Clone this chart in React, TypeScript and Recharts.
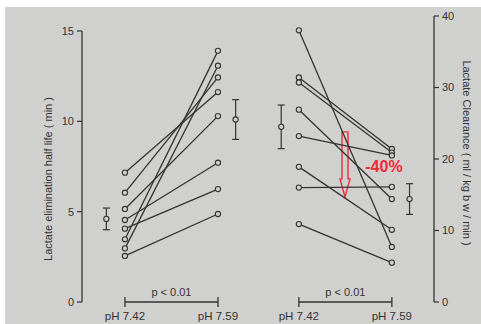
import React from 'react';
import { ComposedChart, Scatter, XAxis, YAxis, ErrorBar, ReferenceLine, ReferenceDot } from 'recharts';

// horizontal slot positions (pH 7.42 of left panel = 1, pH 7.59 = 2)
const xDomain: [number, number] = [0.538, 4.323];
const pos = {
  leftMeanBefore: 0.8,
  leftBefore: 1,
  leftAfter: 2,
  leftMeanAfter: 2.19,
  rightMeanBefore: 2.68,
  rightBefore: 2.87,
  rightAfter: 3.87,
  rightMeanAfter: 4.06,
};
const xTickValues = [1, 2, 2.87, 3.87];
const xTickLabels = ['pH 7.42', 'pH 7.59', 'pH 7.42', 'pH 7.59'];

const leftTicks = [0, 5, 10, 15];
const rightTicks = [0, 10, 20, 30, 40];

// Lactate elimination half life (min), per subject
const halfLifeBefore = [7.16, 6.05, 5.15, 4.54, 4.06, 3.47, 2.97, 2.55];
const halfLifeAfter = [11.62, 12.43, 10.29, 7.71, 6.25, 13.9, 13.08, 4.87];
const halfLifeMean = [4.6, 10.1];
const halfLifeErr = [0.6, 1.1];

// Lactate clearance (ml/kg bw/min), per subject
const clearanceBefore = [38.0, 31.4, 30.7, 26.9, 23.2, 18.9, 16.0, 10.9];
const clearanceAfter = [7.7, 21.4, 20.9, 14.4, 20.5, 10.1, 16.1, 5.5];
const clearanceMean = [24.5, 14.4];
const clearanceErr = [3.05, 2.15];

const pText = 'p < 0.01';
const arrowX = 3.366;
const arrowFrom = 23.8;
const arrowTo = 14.7;
const changeLabel = '-40%';
const changeX = 3.785;
const changeY = 18.95;

const BG = '#d0d0ce';
const INK = '#333333';
const RED = '#ee2b3b';
const FONT = '"Liberation Sans", Arial, sans-serif';

const Dot = (props: any) => {
  const { cx, cy } = props;
  if (cx == null || cy == null) return null;
  return <circle cx={cx} cy={cy} r={2.6} fill={BG} stroke={INK} strokeWidth={1.1} />;
};

const Arrow = (props: any) => {
  const { x1, y1, y2 } = props;
  const x = x1;
  const top = Math.min(y1, y2);
  const tip = Math.max(y1, y2);
  const hy = tip - 18;
  const d = `M${x - 3},${top} L${x + 3},${top} L${x + 3},${hy} L${x + 5},${hy} L${x},${tip} L${x - 5},${hy} L${x - 3},${hy} Z`;
  return <path d={d} fill="none" stroke={RED} strokeWidth={1.4} />;
};

const tickStyle = { fill: INK, fontSize: 11, fontFamily: FONT };
const lineStyle = { stroke: INK, strokeWidth: 1.3 };

export default function App() {
  const halfLifePairs = halfLifeBefore.map((b, i) => [
    { x: pos.leftBefore, y: b },
    { x: pos.leftAfter, y: halfLifeAfter[i] },
  ]);
  const clearancePairs = clearanceBefore.map((b, i) => [
    { x: pos.rightBefore, y: b },
    { x: pos.rightAfter, y: clearanceAfter[i] },
  ]);
  const halfLifeMeans = [
    { x: pos.leftMeanBefore, y: halfLifeMean[0], err: halfLifeErr[0] },
    { x: pos.leftMeanAfter, y: halfLifeMean[1], err: halfLifeErr[1] },
  ];
  const clearanceMeans = [
    { x: pos.rightMeanBefore, y: clearanceMean[0], err: clearanceErr[0] },
    { x: pos.rightMeanAfter, y: clearanceMean[1], err: clearanceErr[1] },
  ];

  return (
    <div style={{ position: 'absolute', left: 0, top: 0, width: 481, height: 324, background: '#ffffff', overflow: 'hidden' }}>
      <div style={{ position: 'absolute', left: 5, top: 7, right: 0, bottom: 0, background: BG }} />
      <div style={{ position: 'absolute', left: 0, top: 0 }}>
        <ComposedChart width={481} height={324} margin={{ top: 16, right: 0, bottom: 0, left: 0 }}>
          <XAxis
            type="number"
            dataKey="x"
            domain={xDomain}
            ticks={xTickValues}
            interval={0}
            allowDataOverflow
            tickFormatter={(v: number) => xTickLabels[xTickValues.indexOf(v)]}
            axisLine={false}
            tickLine={false}
            tickSize={8}
            tickMargin={2}
            height={22}
            tick={{ ...tickStyle, fontSize: 11.5 }}
          />
          <YAxis
            yAxisId="L"
            type="number"
            dataKey="y"
            domain={[0, 15.83]}
            ticks={leftTicks}
            allowDataOverflow
            width={82}
            axisLine={false}
            tickLine={{ stroke: INK, strokeWidth: 1.2 }}
            tickSize={5}
            tickMargin={3}
            tick={tickStyle}
            label={{
              value: 'Lactate elimination half life ( min )',
              angle: -90,
              position: 'insideLeft',
              offset: 48,
              dy: 20,
              style: { textAnchor: 'middle' },
              fill: INK,
              fontSize: 11,
              fontFamily: FONT,
            }}
          />
          <YAxis
            yAxisId="R"
            orientation="right"
            type="number"
            dataKey="y"
            domain={[0, 40]}
            ticks={rightTicks}
            allowDataOverflow
            width={47}
            axisLine={false}
            tickLine={{ stroke: INK, strokeWidth: 1.2 }}
            tickSize={5}
            tickMargin={3}
            tick={tickStyle}
            label={{
              value: 'Lactate Clearance ( ml / kg b w / min )',
              angle: 90,
              position: 'insideRight',
              offset: 14,
              dy: -6,
              style: { textAnchor: 'middle' },
              fill: INK,
              fontSize: 11,
              fontFamily: FONT,
            }}
          />

          {/* axis lines */}
          <ReferenceLine yAxisId="L" ifOverflow="visible" segment={[{ x: xDomain[0], y: 0 }, { x: xDomain[0], y: leftTicks[leftTicks.length - 1] }]} stroke={INK} strokeWidth={1.3} />
          <ReferenceLine yAxisId="R" ifOverflow="visible" segment={[{ x: xDomain[1], y: 0 }, { x: xDomain[1], y: rightTicks[rightTicks.length - 1] }]} stroke={INK} strokeWidth={1.3} />

          {/* significance brackets */}
          <ReferenceLine
            yAxisId="L"
            ifOverflow="visible"
            segment={[{ x: pos.leftBefore, y: 0 }, { x: pos.leftAfter, y: 0 }]}
            stroke={INK}
            strokeWidth={1.3}
            label={{ value: pText, position: 'top', offset: 6, fill: INK, fontSize: 11, fontFamily: FONT }}
          />
          <ReferenceLine
            yAxisId="L"
            ifOverflow="visible"
            segment={[{ x: pos.rightBefore, y: 0 }, { x: pos.rightAfter, y: 0 }]}
            stroke={INK}
            strokeWidth={1.3}
            label={{ value: pText, position: 'top', offset: 6, fill: INK, fontSize: 11, fontFamily: FONT }}
          />
          {[pos.leftBefore, pos.leftAfter, pos.rightBefore, pos.rightAfter].map((x) => (
            <ReferenceLine
              key={'bt' + x}
              yAxisId="L"
              ifOverflow="visible"
              segment={[{ x, y: -0.27 }, { x, y: 0.27 }]}
              stroke={INK}
              strokeWidth={1.3}
            />
          ))}

          {halfLifePairs.map((d, i) => (
            <Scatter key={'hl' + i} yAxisId="L" data={d} dataKey="y" line={lineStyle} shape={Dot} isAnimationActive={false} />
          ))}
          {clearancePairs.map((d, i) => (
            <Scatter key={'cl' + i} yAxisId="R" data={d} dataKey="y" line={lineStyle} shape={Dot} isAnimationActive={false} />
          ))}

          <Scatter yAxisId="L" data={halfLifeMeans} dataKey="y" shape={Dot} isAnimationActive={false}>
            <ErrorBar dataKey="err" direction="y" width={3.5} stroke={INK} strokeWidth={1.2} isAnimationActive={false} />
          </Scatter>
          <Scatter yAxisId="R" data={clearanceMeans} dataKey="y" shape={Dot} isAnimationActive={false}>
            <ErrorBar dataKey="err" direction="y" width={3.5} stroke={INK} strokeWidth={1.2} isAnimationActive={false} />
          </Scatter>

          <ReferenceLine
            yAxisId="R"
            ifOverflow="visible"
            segment={[{ x: arrowX, y: arrowFrom }, { x: arrowX, y: arrowTo }]}
            shape={Arrow}
          />
          <ReferenceDot
            yAxisId="R"
            x={changeX}
            y={changeY}
            r={0}
            stroke="none"
            fill="none"
            ifOverflow="visible"
            label={{ value: changeLabel, position: 'center', fill: RED, fontSize: 16, fontWeight: 700, fontFamily: FONT }}
          />
        </ComposedChart>
      </div>
    </div>
  );
}
